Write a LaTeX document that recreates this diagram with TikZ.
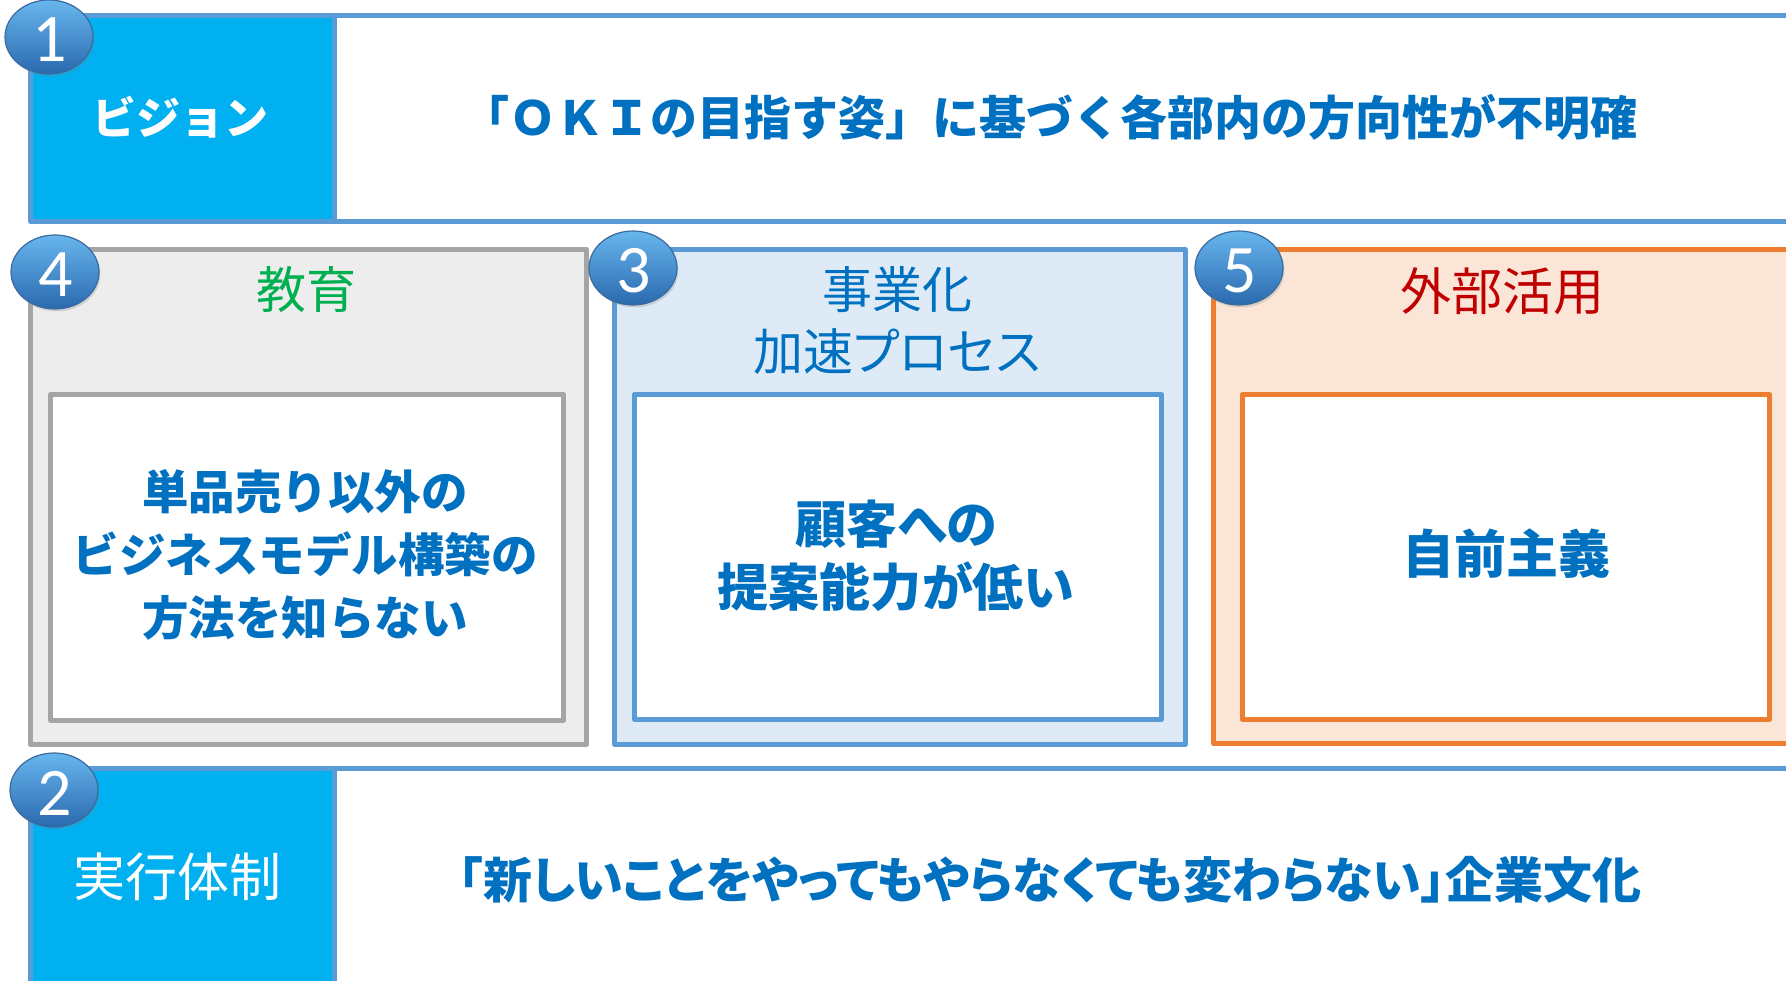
\documentclass[tikz,border=0pt]{standalone}
\usepackage{fontspec}
\setmainfont{Noto Sans CJK JP}
\newfontfamily\jpp[RawFeature=+palt]{Noto Sans CJK JP}
\newfontfamily\numfont{Carlito}
\usetikzlibrary{shapes.geometric,shadows}
\definecolor{bandblue}{HTML}{5B9BD5}
\definecolor{cyanfill}{HTML}{00B0F0}
\definecolor{txtblue}{HTML}{0070C0}
\definecolor{grayline}{HTML}{A5A5A5}
\definecolor{grayfill}{HTML}{EDEDED}
\definecolor{lbfill}{HTML}{DEEBF7}
\definecolor{orline}{HTML}{ED7D31}
\definecolor{orfill}{HTML}{FBE5D6}
\definecolor{grn}{HTML}{00B050}
\definecolor{redt}{HTML}{C00000}
\definecolor{balltop}{HTML}{68B6EE}
\definecolor{ballbot}{HTML}{2A69AE}
\definecolor{ballline}{HTML}{3A6AA0}
\tikzset{
  cell/.style={draw, line width=5pt, inner sep=0pt, anchor=north west, line join=round},
  numball/.style={ellipse, minimum width=88pt, minimum height=74pt, inner sep=0pt,
    top color=balltop, bottom color=ballbot, draw=ballline, line width=1.2pt,
    drop shadow={opacity=0.25, shadow xshift=1.5pt, shadow yshift=-2.5pt}},
  numtxt/.style={text=white, font=\numfont\fontsize{68}{68}\selectfont, inner sep=0pt},
  headw/.style={text=white, inner sep=0pt},
  maintxt/.style={text=txtblue, inner sep=0pt, align=center},
}
\begin{document}
\begin{tikzpicture}[x=1pt,y=-1pt]
\useasboundingbox (0,0) rectangle (1786,981);
\clip (0,0) rectangle (1786,981);
% top band
\node[cell, draw=bandblue, fill=white, minimum width=1480pt, minimum height=206pt] (visR) at (332,13) {};
\node[cell, draw=bandblue, fill=cyanfill, minimum width=304pt, minimum height=206pt] (visL) at (28,13) {};
\node[headw, font=\bfseries\fontsize{44}{44}\selectfont] (visT) at (180,117) {ビジョン};
\node[maintxt, font=\bfseries\fontsize{47}{47}\selectfont] (visM) at (1050,117) {「ＯＫＩの目指す姿」に基づく各部内の方向性が不明確};
% middle boxes
\node[cell, draw=grayline, fill=grayfill, minimum width=556pt, minimum height=495pt] (b4) at (28,247) {};
\node[cell, draw=grayline, fill=white, minimum width=513pt, minimum height=326pt] (b4i) at (48,392) {};
\node[cell, draw=bandblue, fill=lbfill, minimum width=571pt, minimum height=495pt] (b3) at (612,247) {};
\node[cell, draw=bandblue, fill=white, minimum width=527pt, minimum height=325pt] (b3i) at (632,392) {};
\node[cell, draw=orline, fill=orfill, minimum width=620pt, minimum height=494pt] (b5) at (1211,247) {};
\node[cell, draw=orline, fill=white, minimum width=527pt, minimum height=325pt] (b5i) at (1240,392) {};
\node[text=grn, inner sep=0pt, font=\fontsize{50}{50}\selectfont] (t4) at (306,290) {教育};
\node[maintxt, font=\bfseries\fontsize{46.5}{63}\selectfont] (t4i) at (305,555) {単品売り以外の\\ビジネスモデル構築の\\方法を知らない};
\node[text=txtblue, inner sep=0pt, align=center, font=\jpp\fontsize{50}{62}\selectfont] (t3) at (897,321) {事業化\\加速プロセス};
\node[maintxt, font=\jpp\bfseries\fontsize{51}{63}\selectfont] (t3i) at (896,556) {顧客への\\提案能力が低い};
\node[text=redt, inner sep=0pt, font=\fontsize{51}{51}\selectfont] (t5) at (1502,291) {外部活用};
\node[maintxt, font=\bfseries\fontsize{52}{52}\selectfont] (t5i) at (1506,554) {自前主義};
% bottom band
\node[cell, draw=bandblue, fill=white, minimum width=1480pt, minimum height=240pt] (exR) at (332,766) {};
\node[cell, draw=bandblue, fill=cyanfill, minimum width=304pt, minimum height=240pt] (exL) at (28,766) {};
\node[headw, font=\fontsize{52}{52}\selectfont] (exT) at (177,877) {実行体制};
\node[maintxt, font=\jpp\bfseries\fontsize{49}{49}\selectfont] (exM) at (1050,880) {「新しいことをやってもやらなくても変わらない」企業文化};
% number balls
\node[numball] (n1) at (49,37) {};
\node[numtxt] at (50,40) {1};
\node[numball] (n2) at (54,790) {};
\node[numtxt] at (55,793) {2};
\node[numball] (n4) at (55,272) {};
\node[numtxt] at (56,275) {4};
\node[numball] (n3) at (633,268) {};
\node[numtxt] at (634,271) {3};
\node[numball] (n5) at (1239,268) {};
\node[numtxt] at (1240,271) {5};
\end{tikzpicture}
\end{document}
